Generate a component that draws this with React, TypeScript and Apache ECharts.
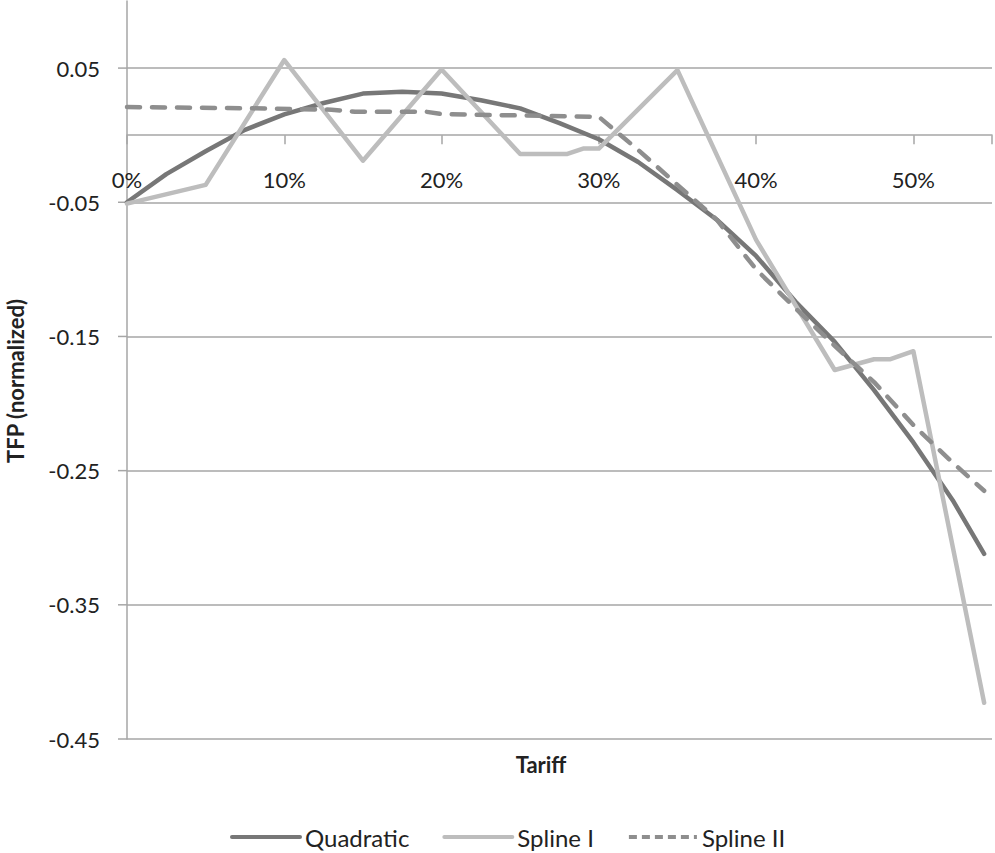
import React, { useEffect, useRef } from "react";
import * as echarts from "echarts";

// Quadratic fit
const quadX = [0, 0.025, 0.05, 0.075, 0.1, 0.125, 0.15, 0.175, 0.2, 0.225, 0.25, 0.275, 0.3, 0.325, 0.35, 0.375, 0.4, 0.425, 0.45, 0.475, 0.5, 0.525, 0.545];
const quadY = [-0.05, -0.029, -0.012, 0.004, 0.0155, 0.024, 0.031, 0.0323, 0.031, 0.026, 0.02, 0.009, -0.003, -0.02, -0.041, -0.063, -0.09, -0.124, -0.154, -0.19, -0.229, -0.272, -0.312];

// Spline I
const spline1X = [0, 0.05, 0.1, 0.15, 0.2, 0.25, 0.28, 0.29, 0.3, 0.35, 0.4, 0.45, 0.475, 0.485, 0.5, 0.545];
const spline1Y = [-0.051, -0.037, 0.056, -0.019, 0.049, -0.014, -0.014, -0.01, -0.01, 0.0485, -0.078, -0.175, -0.167, -0.167, -0.161, -0.423];

// Spline II
const spline2X = [0, 0.08, 0.13, 0.145, 0.19, 0.2, 0.3, 0.325, 0.35, 0.375, 0.4, 0.425, 0.45, 0.475, 0.5, 0.525, 0.545];
const spline2Y = [0.021, 0.02, 0.019, 0.0175, 0.0175, 0.0157, 0.0137, -0.011, -0.037, -0.063, -0.1, -0.129, -0.157, -0.184, -0.216, -0.244, -0.265];

const seriesNames = ["Quadratic", "Spline I", "Spline II"];
const yLabelValues = [-0.45, -0.35, -0.25, -0.15, -0.05, 0.05];
const xLabelValues = [0, 0.1, 0.2, 0.3, 0.4, 0.5];
const xTitle = "Tariff";
const yTitle = "TFP (normalized)";

const zip = (xs: number[], ys: number[]) => xs.map((x, i) => [x, ys[i]]);
const near = (list: number[], v: number) => list.some((t) => Math.abs(t - v) < 1e-6);

export default function App() {
  const ref = useRef<HTMLDivElement>(null);

  useEffect(() => {
    if (!ref.current) return;
    const chart = echarts.init(ref.current, null, { renderer: "svg" });
    const font = "Lato, 'Open Sans', sans-serif";
    const gridColor = "#a6a6a6";
    const textColor = "#222222";
    const colors = ["#777777", "#bdbdbd", "#8e8e8e"];

    chart.setOption({
      animation: false,
      grid: { left: 127, right: 3, top: 1, bottom: 114, containLabel: false },
      xAxis: {
        type: "value",
        min: 0,
        max: 0.55,
        interval: 0.1,
        axisLine: { show: true, onZero: true, lineStyle: { color: gridColor, width: 1.5 } },
        axisTick: { show: true, length: 9, lineStyle: { color: gridColor, width: 1.5 } },
        axisLabel: { show: false },
        splitLine: { show: false },
      },
      yAxis: {
        type: "value",
        min: -0.45,
        max: 0.1,
        interval: 0.05,
        axisLine: { show: true, lineStyle: { color: gridColor, width: 1.5 } },
        axisTick: { show: false },
        axisLabel: {
          margin: 27,
          fontSize: 22,
          fontFamily: font,
          color: textColor,
          showMaxLabel: false,
          formatter: (v: number) => (near(yLabelValues, v) ? v.toFixed(2) : ""),
        },
        splitLine: {
          show: true,
          showMaxLine: false,
          lineStyle: { color: [gridColor, "rgba(0,0,0,0)"], width: 1.5 },
        },
      },
      legend: {
        left: 225,
        top: 820,
        itemWidth: 68,
        itemHeight: 14,
        itemGap: 33,
        itemStyle: { opacity: 0 },
        textStyle: { fontSize: 24, fontFamily: font, color: textColor },
        data: [
          { name: seriesNames[0], lineStyle: { width: 4, color: colors[0], type: "solid" } },
          { name: seriesNames[1], lineStyle: { width: 4, color: colors[1], type: "solid" } },
          { name: seriesNames[2], lineStyle: { width: 4, color: colors[2], type: [8, 5], cap: "butt" } },
        ],
      },
      graphic: [
        {
          type: "text",
          x: 15,
          y: 381,
          rotation: Math.PI / 2,
          style: {
            text: yTitle,
            font: "bold 22px Lato, 'Open Sans', sans-serif",
            fill: textColor,
            align: "center",
            verticalAlign: "middle",
          },
        },
        {
          type: "text",
          x: 541,
          y: 764,
          style: {
            text: xTitle,
            font: "bold 22px Lato, 'Open Sans', sans-serif",
            fill: textColor,
            align: "center",
            verticalAlign: "middle",
          },
        },
      ],
      series: [
        {
          name: "xLabels",
          type: "custom",
          silent: true,
          clip: false,
          z: 1,
          data: xLabelValues.map((v) => [v, 0]),
          renderItem: (params: any, api: any) => {
            const v = api.value(0);
            const p = api.coord([v, api.value(1)]);
            return {
              type: "text",
              style: {
                text: Math.round(v * 100) + "%",
                x: p[0],
                y: p[1] + 44,
                font: "22px Lato, 'Open Sans', sans-serif",
                fill: textColor,
                align: "center",
                verticalAlign: "middle",
              },
            };
          },
        },
        {
          name: seriesNames[0],
          type: "line",
          data: zip(quadX, quadY),
          symbol: "none",
          showSymbol: false,
          color: colors[0],
          z: 2,
          lineStyle: { color: colors[0], width: 4.5, cap: "round", join: "round" },
        },
        {
          name: seriesNames[1],
          type: "line",
          data: zip(spline1X, spline1Y),
          symbol: "none",
          showSymbol: false,
          color: colors[1],
          z: 2,
          lineStyle: { color: colors[1], width: 4.5, cap: "round", join: "round" },
        },
        {
          name: seriesNames[2],
          type: "line",
          data: zip(spline2X, spline2Y),
          symbol: "none",
          showSymbol: false,
          color: colors[2],
          z: 2,
          lineStyle: { color: colors[2], width: 4.5, type: [13, 12], cap: "round", join: "round" },
        },
        {
          name: "yTicks",
          type: "custom",
          silent: true,
          clip: false,
          data: yLabelValues.map((v) => [0, v]),
          renderItem: (params: any, api: any) => {
            const p = api.coord([api.value(0), api.value(1)]);
            return {
              type: "line",
              shape: { x1: p[0] - 9, y1: p[1], x2: p[0], y2: p[1] },
              style: { stroke: gridColor, lineWidth: 1.5 },
            };
          },
        },
      ],
    });

    return () => chart.dispose();
  }, []);

  return (
    <div
      ref={ref}
      style={{ position: "fixed", left: 0, top: 0, width: 995, height: 853, background: "#ffffff" }}
    />
  );
}
